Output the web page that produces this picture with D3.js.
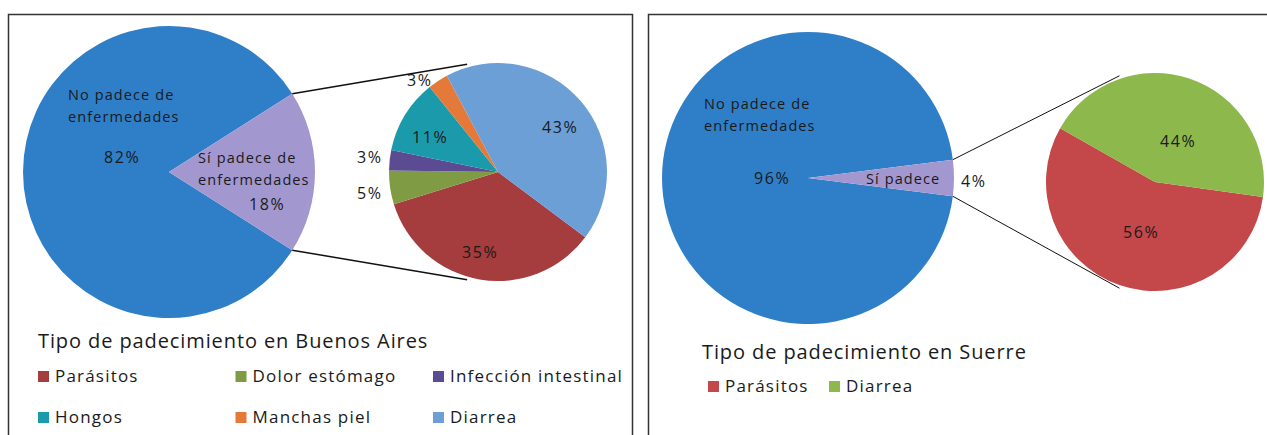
<!DOCTYPE html>
<html>
<head>
<meta charset="utf-8">
<script src="https://cdn.jsdelivr.net/npm/d3@7"></script>
<style>
  body { margin: 0; background: #fff; }
  text { font-family: "Open Sans", "Noto Sans", sans-serif; fill: #1a1a1a; }
</style>
</head>
<body>
<script>
var width = 1267,
    height = 435;

// Buenos Aires
var baMain = ['No padece de enfermedades', 'Sí padece de enfermedades'];
var baMainValues = [82, 18];
var baTypes = ['Parásitos', 'Dolor estómago', 'Infección intestinal', 'Hongos', 'Manchas piel', 'Diarrea'];
var baTypeValues = [35, 5, 3, 11, 3, 43];

// Suerre
var suMain = ['No padece de enfermedades', 'Sí padece de enfermedades'];
var suMainValues = [96, 4];
var suTypes = ['Parásitos', 'Diarrea'];
var suTypeValues = [56, 44];

var mainColors = ['#2f7fc8', '#a397d0'];
var baColors = ['#a53c3d', '#7f9b43', '#5b4b93', '#1a9aaa', '#e4793a', '#6b9fd6'];
var suColors = ['#c4474a', '#8db84b'];

var svg = d3.select('body')
  .append('svg')
  .attr('width', width)
  .attr('height', height);

var rad = Math.PI / 180;

// panel borders (open at the bottom)
svg.append('path')
  .attr('d', 'M8.5,436 V14.5 H632.5 V436')
  .attr('fill', 'none').attr('stroke', '#333').attr('stroke-width', 1.5);
svg.append('path')
  .attr('d', 'M648.5,436 V14.5 H1270')
  .attr('fill', 'none').attr('stroke', '#333').attr('stroke-width', 1.5);

function drawPanel(opt) {
  var g = svg.append('g');

  // main pie, the "other" slice centred on 3 o'clock
  var otherSpan = opt.mainValues[1] / 100 * 360;
  var mainStart = (90 + otherSpan / 2) * rad;
  var mainPie = d3.pie().sort(null).value(function(d) { return d; })
    .startAngle(mainStart).endAngle(mainStart + 2 * Math.PI);
  var mainArc = d3.arc().innerRadius(0).outerRadius(opt.r1);

  var main = g.append('g').attr('transform', 'translate(' + opt.c1 + ')');
  main.selectAll('path')
    .data(mainPie(opt.mainValues))
    .enter()
    .append('path')
    .attr('d', mainArc)
    .attr('fill', function(d, i) { return mainColors[i]; });

  // second pie
  var subPie = d3.pie().sort(null).value(function(d) { return d; })
    .startAngle(opt.subStart * rad).endAngle(opt.subStart * rad + 2 * Math.PI);
  var subArc = d3.arc().innerRadius(0).outerRadius(opt.r2);
  var sub = g.append('g').attr('transform', 'translate(' + opt.c2 + ')');
  sub.selectAll('path')
    .data(subPie(opt.subValues))
    .enter()
    .append('path')
    .attr('d', subArc)
    .attr('fill', function(d, i) { return opt.subColors[i]; });

  // connector lines
  var a1 = (90 - otherSpan / 2) * rad, a2 = (90 + otherSpan / 2) * rad;
  var p1 = [opt.c1[0] + opt.r1 * Math.sin(a1), opt.c1[1] - opt.r1 * Math.cos(a1)];
  var p2 = [opt.c1[0] + opt.r1 * Math.sin(a2), opt.c1[1] - opt.r1 * Math.cos(a2)];
  var rr = opt.r2 + 3;
  var q1 = [opt.c2[0] - rr * Math.sin(opt.tan * rad), opt.c2[1] - rr * Math.cos(opt.tan * rad)];
  var q2 = [opt.c2[0] - rr * Math.sin(opt.tan * rad), opt.c2[1] + rr * Math.cos(opt.tan * rad)];
  g.selectAll('line.conn')
    .data([[p1, q1], [p2, q2]])
    .enter()
    .append('line')
    .attr('class', 'conn')
    .attr('x1', function(d) { return d[0][0]; })
    .attr('y1', function(d) { return d[0][1]; })
    .attr('x2', function(d) { return d[1][0]; })
    .attr('y2', function(d) { return d[1][1]; })
    .attr('stroke', '#111')
    .attr('stroke-width', opt.lineW);

  // labels
  g.selectAll('text.lab')
    .data(opt.labels)
    .enter()
    .append('text')
    .attr('class', 'lab')
    .attr('x', function(d) { return d[0]; })
    .attr('y', function(d) { return d[1]; })
    .attr('font-size', function(d) { return d[3] ? 16 : 14.5; })
    .attr('letter-spacing', function(d) { return d[3] ? 1.6 : 1.1; })
    .text(function(d) { return d[2]; });

  // legend
  g.append('text')
    .attr('x', opt.legendX)
    .attr('y', opt.titleY)
    .attr('font-size', 20)
    .attr('letter-spacing', 0.9)
    .text(opt.title);

  var items = g.selectAll('g.item')
    .data(opt.subNames)
    .enter()
    .append('g')
    .attr('class', 'item')
    .attr('transform', function(d, i) {
      return 'translate(' + opt.itemPos(i) + ')';
    });
  items.append('rect')
    .attr('x', 0).attr('y', -11)
    .attr('width', 11).attr('height', 11)
    .attr('fill', function(d, i) { return opt.subColors[i]; });
  items.append('text')
    .attr('x', 17).attr('y', 0)
    .attr('font-size', 17)
    .attr('letter-spacing', 1.2)
    .text(function(d) { return d; });
}

drawPanel({
  c1: [169, 172], r1: 146,
  c2: [498, 172], r2: 109,
  mainValues: baMainValues,
  subValues: baTypeValues,
  subColors: baColors,
  subNames: baTypes,
  subStart: 126.8,
  tan: 16,
  lineW: 1.5,
  labels: [
    [68, 100, 'No padece de'],
    [68, 122, 'enfermedades'],
    [104, 163, '82%', 1],
    [198, 163, 'Sí padece de'],
    [198, 185, 'enfermedades'],
    [249, 210, '18%', 1],
    [407, 86, '3%', 1],
    [412, 143, '11%', 1],
    [357, 163, '3%', 1],
    [357, 199, '5%', 1],
    [542, 133, '43%', 1],
    [462, 258, '35%', 1]
  ],
  title: 'Tipo de padecimiento en Buenos Aires',
  legendX: 38,
  titleY: 348,
  itemPos: function(i) {
    var col = i % 3, row = Math.floor(i / 3);
    return [38 + col * 197.5, 382 + row * 41];
  }
});

drawPanel({
  c1: [808, 178], r1: 146,
  c2: [1155, 182], r2: 109,
  mainValues: suMainValues,
  subValues: suTypeValues,
  subColors: suColors,
  subNames: suTypes,
  subStart: 97.9,
  tan: 18.5,
  lineW: 1,
  labels: [
    [704, 109, 'No padece de'],
    [704, 131, 'enfermedades'],
    [754, 184, '96%', 1],
    [866, 184, 'Sí padece'],
    [961, 187, '4%', 1],
    [1160, 147, '44%', 1],
    [1123, 238, '56%', 1]
  ],
  title: 'Tipo de padecimiento en Suerre',
  legendX: 702,
  titleY: 359,
  itemPos: function(i) {
    return [708 + i * 121, 392];
  }
});
</script>
</body>
</html>
